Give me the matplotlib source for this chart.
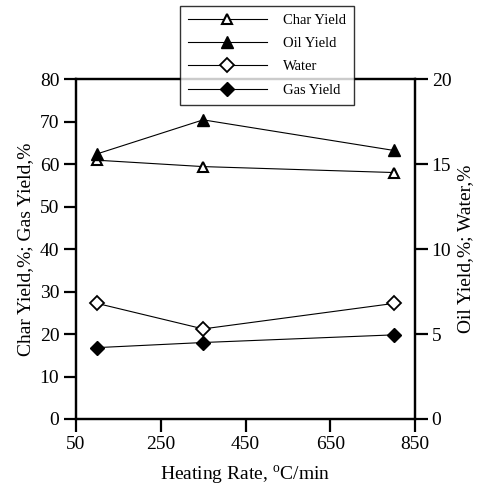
import numpy as np
import matplotlib.pyplot as plt

plt.rcParams['font.family'] = ['Liberation Serif', 'DejaVu Serif']
plt.rcParams['mathtext.fontset'] = 'custom'
plt.rcParams['mathtext.rm'] = 'Liberation Serif'

rate = [100, 350, 800]             # heating rate, oC/min
char_yield = [60.9, 59.4, 58.0]    # left axis
gas_yield = [16.8, 18.0, 19.8]     # left axis
oil_yield = [15.6, 17.6, 15.8]     # right axis
water = [6.8, 5.3, 6.8]            # right axis

fig = plt.figure(figsize=(4.85, 4.88), dpi=100)
ax = fig.add_axes([0.1567, 0.1414, 0.699, 0.6966])
ax2 = ax.twinx()

l1, = ax.plot(rate, char_yield, color='black', lw=0.8, marker='^', ms=7,
              mfc='white', mec='black', mew=1.5, label='Char Yield')
l2, = ax2.plot(rate, oil_yield, color='black', lw=0.8, marker='^', ms=8,
               mfc='black', mec='black', label='Oil Yield')
l3, = ax2.plot(rate, water, color='black', lw=0.8, marker='D', ms=7,
               mfc='white', mec='black', mew=1.3, label='Water')
l4, = ax.plot(rate, gas_yield, color='black', lw=0.8, marker='D', ms=7,
              mfc='black', mec='black', label='Gas Yield')

ax.set_xlim(50, 850)
ax.set_xticks([50, 250, 450, 650, 850])
ax.set_ylim(0, 80)
ax.set_yticks(np.arange(0, 81, 10))
ax2.set_ylim(0, 20)
ax2.set_yticks([0, 5, 10, 15, 20])

for a in (ax, ax2):
    for s in a.spines.values():
        s.set_linewidth(1.6)
    a.tick_params(direction='out', length=9, width=1.6, labelsize=14, pad=3)

ax.set_xlabel('Heating Rate, $^{\\mathrm{o}}$C/min', fontsize=14, labelpad=8)
ax.set_ylabel('Char Yield,%; Gas Yield,%', fontsize=14)
ax2.set_ylabel('Oil Yield,%; Water,%', fontsize=14)

leg = fig.legend(handles=[l1, l2, l3, l4], loc='upper left',
                 bbox_to_anchor=(180 / 485, 1 - 6 / 488), fontsize=10.5,
                 frameon=True, fancybox=False, edgecolor='black',
                 handlelength=5.4, borderpad=0.55, labelspacing=0.68,
                 handletextpad=1.1, borderaxespad=0)
leg.get_frame().set_linewidth(1.0)
leg.set_zorder(10)

fig.savefig('out.png', dpi=100)
